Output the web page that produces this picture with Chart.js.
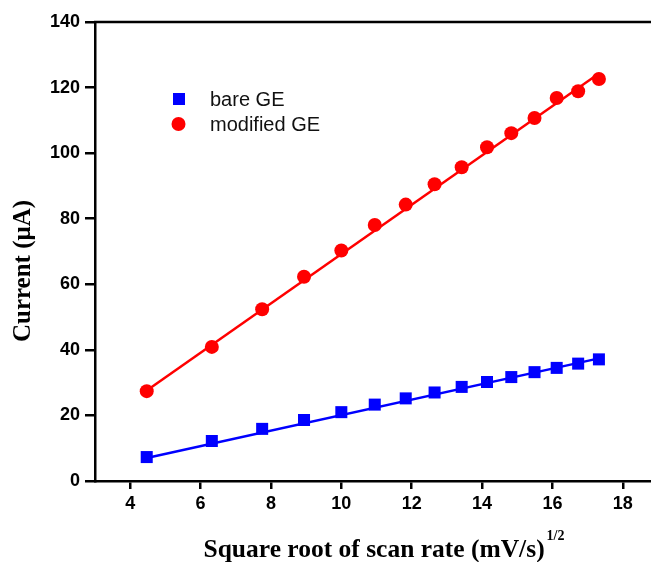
<!DOCTYPE html>
<html>
<head>
<meta charset="utf-8">
<script src="https://cdn.jsdelivr.net/npm/chart.js@4"></script>
<style>
  html, body { margin: 0; padding: 0; background: #fff; }
  #wrap { width: 651px; height: 562px; }
</style>
</head>
<body>
<div id="wrap"><canvas id="chart" width="651" height="562"></canvas></div>
<script>
// square root of scan rate (mV/s)^1/2
const sqrtRate = [4.47, 6.32, 7.75, 8.94, 10.0, 10.95, 11.83, 12.65, 13.42, 14.14, 14.83, 15.49, 16.12, 16.73, 17.32];
const bareGE = [7.3, 12.2, 15.9, 18.6, 21.0, 23.3, 25.2, 27.0, 28.7, 30.2, 31.7, 33.2, 34.5, 35.8, 37.1];
const modifiedGE = [27.4, 40.9, 52.4, 62.3, 70.3, 78.1, 84.3, 90.5, 95.7, 101.8, 106.1, 110.7, 116.8, 118.9, 122.6];
// linear fit endpoints
const fitX = [4.47, 17.32];
const bareFit = [7.0, 37.4];
const modifiedFit = [27.6, 124.3];
const xTicks = [4, 6, 8, 10, 12, 14, 16, 18];
const yTicks = [0, 20, 40, 60, 80, 100, 120, 140];
const xTitle = "Square root of scan rate (mV/s)";
const xTitleSup = "1/2";
const yTitle = "Current (\u03BCA)";

const toPts = (xs, ys) => xs.map((x, i) => ({ x, y: ys[i] }));
const SERIF = "'Liberation Serif', 'Times New Roman', serif";
const SANS = "'Liberation Sans', Arial, sans-serif";

// top frame line, inside legend, axis titles
const framePlugin = {
  id: "frame",
  afterDraw(c) {
    const { ctx, chartArea: a } = c;
    ctx.save();
    ctx.strokeStyle = "#000";
    ctx.lineWidth = 2.5;
    ctx.beginPath();
    ctx.moveTo(a.left - 1, a.top);
    ctx.lineTo(a.right, a.top);
    ctx.stroke();

    // legend
    const items = [
      { label: c.data.datasets[0].label, color: "#0000ff", shape: "rect", y: 99 },
      { label: c.data.datasets[1].label, color: "#ff0000", shape: "circle", y: 124 }
    ];
    ctx.font = "20px " + SANS;
    ctx.textBaseline = "middle";
    items.forEach(it => {
      ctx.fillStyle = it.color;
      if (it.shape === "rect") ctx.fillRect(173, it.y - 6, 12, 12);
      else { ctx.beginPath(); ctx.arc(178.5, it.y, 7, 0, Math.PI * 2); ctx.fill(); }
      ctx.fillStyle = "#111";
      ctx.fillText(it.label, 210, it.y + 1);
    });

    // x axis title with superscript
    ctx.fillStyle = "#000";
    ctx.textBaseline = "alphabetic";
    ctx.textAlign = "left";
    ctx.font = "bold 25.5px " + SERIF;
    const w1 = ctx.measureText(xTitle).width;
    ctx.font = "bold 14px " + SERIF;
    const w2 = ctx.measureText(xTitleSup).width;
    const x0 = 384 - (w1 + w2 + 2) / 2;
    ctx.font = "bold 25.5px " + SERIF;
    ctx.fillText(xTitle, x0, 557);
    ctx.font = "bold 14px " + SERIF;
    ctx.fillText(xTitleSup, x0 + w1 + 2, 540);

    // y axis title
    ctx.translate(24, 271);
    ctx.rotate(-Math.PI / 2);
    ctx.textAlign = "center";
    ctx.textBaseline = "middle";
    ctx.font = "bold 25px " + SERIF;
    ctx.fillText(yTitle, 0, 0);
    ctx.restore();
  }
};

new Chart(document.getElementById("chart"), {
  type: "scatter",
  data: {
    datasets: [
      {
        label: "bare GE",
        data: toPts(sqrtRate, bareGE),
        pointStyle: "rect",
        pointRadius: 8.5,
        backgroundColor: "#0000ff",
        borderWidth: 0,
        showLine: false
      },
      {
        label: "modified GE",
        data: toPts(sqrtRate, modifiedGE),
        pointStyle: "circle",
        pointRadius: 7,
        backgroundColor: "#ff0000",
        borderWidth: 0,
        showLine: false
      },
      {
        label: "bare fit",
        data: toPts(fitX, bareFit),
        showLine: true,
        pointRadius: 0,
        borderColor: "#0000ff",
        borderWidth: 2.5
      },
      {
        label: "modified fit",
        data: toPts(fitX, modifiedFit),
        showLine: true,
        pointRadius: 0,
        borderColor: "#ff0000",
        borderWidth: 2.5
      }
    ]
  },
  options: {
    responsive: false,
    animation: false,
    layout: { autoPadding: false, padding: { top: 22, right: 0, left: 0, bottom: 0 } },
    plugins: { legend: { display: false }, tooltip: { enabled: false } },
    scales: {
      x: {
        type: "linear",
        min: 3,
        max: 18.8,
        afterBuildTicks: s => { s.ticks = xTicks.map(v => ({ value: v })); },
        afterFit: s => { s.height = 81; s.paddingLeft = 0; s.paddingRight = 0; },
        border: { color: "#000", width: 2.5 },
        grid: { drawOnChartArea: false, color: "#000", lineWidth: 2.5, tickLength: 8 },
        ticks: {
          color: "#000",
          padding: 4,
          font: { family: SANS, size: 18, weight: "bold" }
        }
      },
      y: {
        min: 0,
        max: 140,
        afterBuildTicks: s => { s.ticks = yTicks.map(v => ({ value: v })); },
        afterFit: s => { s.width = 95; s.paddingTop = 0; s.paddingBottom = 0; },
        border: { color: "#000", width: 2.5 },
        grid: { drawOnChartArea: false, color: "#000", lineWidth: 2.5, tickLength: 10 },
        ticks: {
          color: "#000",
          padding: 5,
          font: { family: SANS, size: 18, weight: "bold" }
        }
      }
    }
  },
  plugins: [framePlugin]
});
</script>
</body>
</html>
